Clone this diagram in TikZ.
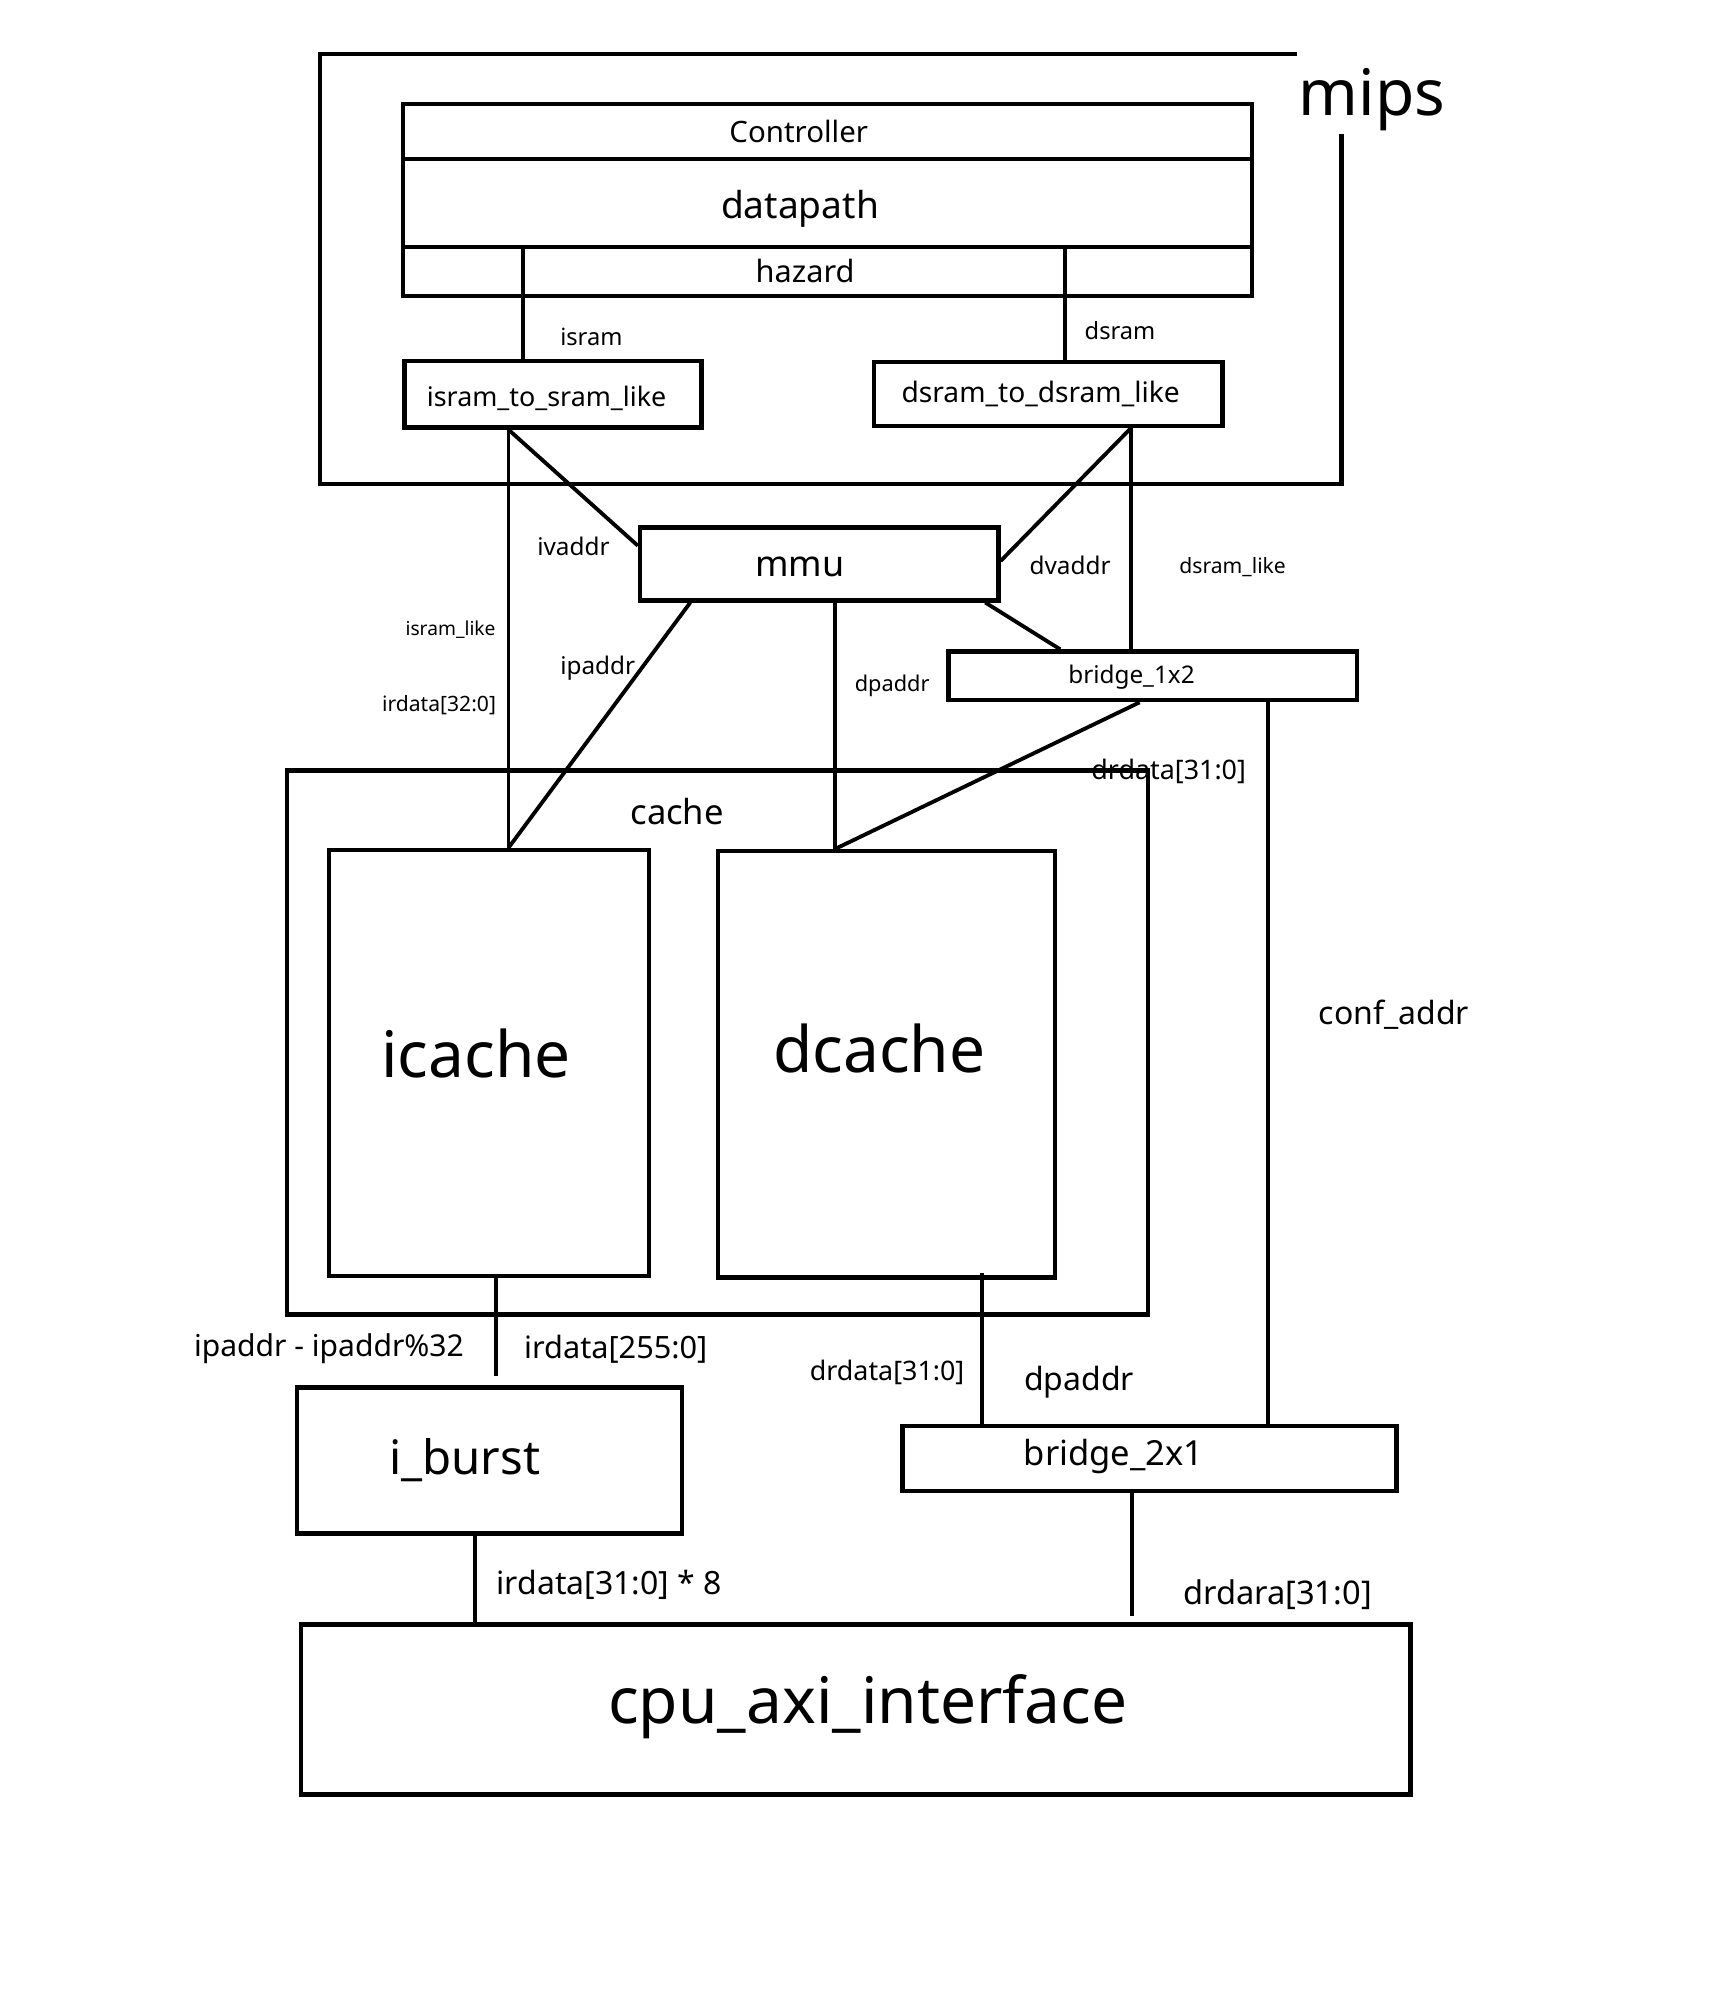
\documentclass[tikz,border=0pt]{standalone}
\usepackage{fontspec}
\setmainfont{Noto Sans}
\usetikzlibrary{calc}
\newcommand\fsz[1]{\fontsize{#1}{#1}\selectfont}
\begin{document}
\begin{tikzpicture}[x=1pt,y=-1pt,
  box/.style={draw, line width=3.4pt, inner sep=0pt},
  wire/.style={line width=3pt},
  txt/.style={inner sep=0pt, font=\fsz{#1}}]
\useasboundingbox (0,0) rectangle (1350,1562.5);
% mips outline (open at top right for the label)
\draw[line width=3.4pt] (1013,42) -- (250,42) -- (250,378) -- (1048,378) -- (1048,105);
\node[txt=50] (mips) at (1072,78) {mips};
% boxes
\node[box, minimum width=663pt, minimum height=43pt] (ctrl) at (646.5,102.5) {};
\node[box, minimum width=663pt, minimum height=69pt] (dp) at (646.5,158.5) {};
\node[box, minimum width=663pt, minimum height=38pt] (hz) at (646.5,212) {};
\node[box, minimum width=232pt, minimum height=52pt] (isr) at (432,308) {};
\node[box, minimum width=272pt, minimum height=50pt] (dsr) at (819,308) {};
\node[box, minimum width=280pt, minimum height=57pt] (mmu) at (640,440.5) {};
\node[box, minimum width=319pt, minimum height=38pt] (b12) at (900.5,528) {};
\node[box, minimum width=673pt, minimum height=425pt] (cache) at (560.5,814.5) {};
\node[box, minimum width=250pt, minimum height=333pt] (ic) at (382,830.5) {};
\node[box, minimum width=263pt, minimum height=333pt] (dc) at (692.5,831.5) {};
\node[box, minimum width=301pt, minimum height=114pt] (ib) at (382.5,1141) {};
\node[box, minimum width=386pt, minimum height=51pt] (b21) at (898,1139.5) {};
\node[box, minimum width=867pt, minimum height=133pt] (cpu) at (668.5,1335.5) {};
% box texts
\node[txt=23] (tctrl) at (624,103) {Controller};
\node[txt=29] (tdp) at (625,163) {datapath};
\node[txt=24] (thz) at (629,212) {hazard};
\node[txt=21] (tisr) at (427,311) {isram\_to\_sram\_like};
\node[txt=22] (tdsr) at (813,308) {dsram\_to\_dsram\_like};
\node[txt=28] (tmmu) at (625,443) {mmu};
\node[txt=19] (tb12) at (884,529) {bridge\_1x2};
\node[txt=27] (tcache) at (529,634) {cache};
\node[txt=50] (tic) at (372,823) {icache};
\node[txt=50] (tdc) at (687,819) {dcache};
\node[txt=37] (tib) at (363,1141) {i\_burst};
\node[txt=27] (tb21) at (870,1138) {bridge\_2x1};
\node[txt=50] (tcpu) at (678,1333) {cpu\_axi\_interface};
% connectors
\draw[wire] ($(hz.north west)+(95,0)$) -- ($(isr.north west)+(94,0)$);
\draw[wire] ($(hz.north west)+(519,0)$) -- ($(dsr.north west)+(151,0)$);
\draw[wire] ($(isr.south west)+(83,0)$) -- ($(mmu.north west)+(0,16)$);
\draw[wire] ($(isr.south west)+(83,0)$) -- ($(ic.north west)+(142,0)$);
\draw[wire] ($(dsr.south west)+(202,0)$) -- ($(mmu.north east)+(0,28)$);
\draw[wire] ($(dsr.south west)+(202,0)$) -- ($(b12.north west)+(144,0)$);
\draw[wire] ($(mmu.south east)+(-12,0)$) -- ($(b12.north west)+(89,0)$);
\draw[wire] ($(mmu.south west)+(41,0)$) -- ($(ic.north west)+(142,0)$);
\draw[wire] ($(mmu.south west)+(154,0)$) -- ($(dc.north west)+(93,0)$);
\draw[wire] ($(b12.south west)+(151,0)$) -- ($(dc.north west)+(93,0)$);
\draw[wire] ($(b12.south west)+(251,0)$) -- ($(b21.north west)+(287,0)$);
\draw[wire] ($(ic.south west)+(132,0)$) -- ($(ib.north west)+(157,-7)$);
\draw[wire] ($(dc.south west)+(208,-5)$) -- ($(b21.north west)+(64,0)$);
\draw[wire] ($(ib.south west)+(141,0)$) -- ($(cpu.north west)+(138,0)$);
\draw[wire] ($(b21.south west)+(181,0)$) -- ($(cpu.north west)+(651,-5)$);
% connector labels
\node[txt=18.5] (lisram) at (462,263) {isram};
\node[txt=18.5] (ldsram) at (875,258) {dsram};
\node[txt=19] (livaddr) at (448,427) {ivaddr};
\node[txt=19] (ldvaddr) at (836,442) {dvaddr};
\node[txt=16.5] (ldsl) at (963,443) {dsram\_like};
\node[txt=15] (lisl) at (352,492) {isram\_like};
\node[txt=16.5] (lird32) at (343,551) {irdata[32:0]};
\node[txt=19] (lipaddr) at (467,522) {ipaddr};
\node[txt=17] (ldpaddr) at (697,536) {dpaddr};
\node[txt=21] (ldrd1) at (913,603) {drdata[31:0]};
\node[txt=25] (lconf) at (1089,793) {conf\_addr};
\node[txt=23.5] (lipm) at (257,1054) {ipaddr - ipaddr\%32};
\node[txt=24] (lird255) at (481,1054) {irdata[255:0]};
\node[txt=21] (ldrd2) at (693,1072) {drdata[31:0]};
\node[txt=25] (ldpaddr2) at (843,1080) {dpaddr};
\node[txt=25] (lird8) at (476,1238) {irdata[31:0] * 8};
\node[txt=25.5] (ldrdara) at (998,1246) {drdara[31:0]};
\end{tikzpicture}
\end{document}
